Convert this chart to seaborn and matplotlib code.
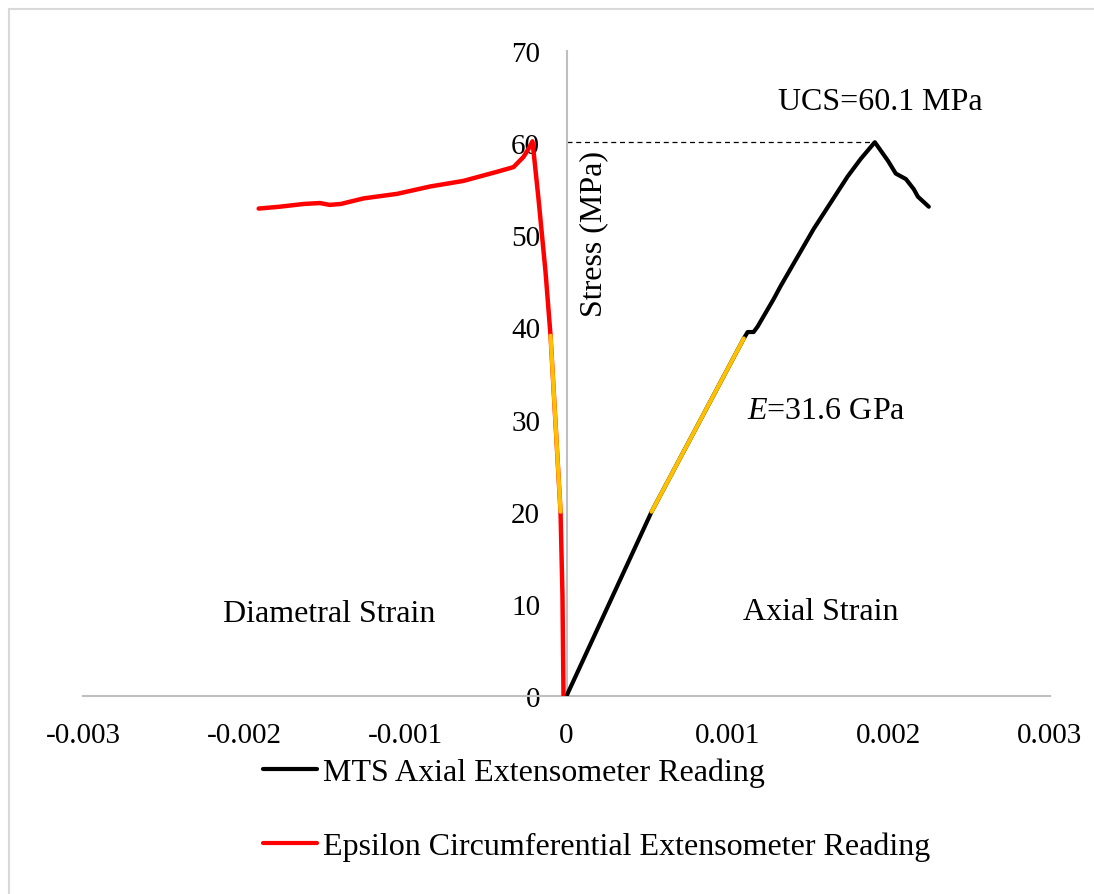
import matplotlib
matplotlib.use("Agg")
import matplotlib.pyplot as plt
import seaborn as sns
import numpy as np
import pandas as pd
from matplotlib.lines import Line2D

# ---- data ----
axial_strain = [0.0, 0.000528, 0.00110, 0.001124, 0.001161, 0.001186, 0.001286,
                0.001329, 0.001534, 0.001745, 0.001826, 0.001913, 0.001994,
                0.002043, 0.002106, 0.002155, 0.00218, 0.002217, 0.002248]
axial_stress = [0.0, 20.0, 38.8, 39.5, 39.5, 40.1, 43.1,
                44.5, 50.7, 56.4, 58.3, 60.1, 58.1,
                56.7, 56.1, 55.0, 54.2, 53.6, 53.1]

diam_strain = [-0.0000186, -0.000025, -0.000037, -0.000099, -0.00013, -0.000174,
               -0.000211, -0.000235, -0.000267, -0.000329, -0.000429, -0.00064,
               -0.000845, -0.00105, -0.00126, -0.0014, -0.00147, -0.00153,
               -0.00163, -0.00178, -0.00191]
diam_stress = [0.0, 10.9, 20.0, 39.1, 46.0, 54.0,
               60.2, 59.4, 58.5, 57.4, 56.9, 55.9,
               55.3, 54.5, 54.0, 53.4, 53.3, 53.5,
               53.4, 53.1, 52.9]

elastic_low, elastic_high = 20.0, 39.1
ucs = 60.1
ucs_strain = 0.001913

x_ticks = [-0.003, -0.002, -0.001, 0, 0.001, 0.002, 0.003]
x_labels = ["-0.003", "-0.002", "-0.001", "0", "0.001", "0.002", "0.003"]
y_ticks = [0, 10, 20, 30, 40, 50, 60, 70]

labels = ["MTS Axial Extensometer Reading", "Epsilon Circumferential Extensometer Reading"]

# ---- plotting ----
sns.set_theme(style="white")
plt.rcParams['font.family'] = ['Liberation Serif', 'DejaVu Serif']
plt.rcParams['mathtext.fontset'] = 'custom'
plt.rcParams['mathtext.rm'] = 'Liberation Serif'
plt.rcParams['mathtext.it'] = 'Liberation Serif:italic'
plt.rcParams['text.color'] = 'black'
plt.rcParams['xtick.color'] = 'black'
plt.rcParams['ytick.color'] = 'black'

fig = plt.figure(figsize=(10.94, 8.95), dpi=100)
ax = fig.add_axes([83/1094, 1-697/895, (1050-83)/1094, (697-52)/895])

ax_df = pd.DataFrame({"strain": axial_strain, "stress": axial_stress})
di_df = pd.DataFrame({"strain": diam_strain, "stress": diam_stress})

sns.lineplot(data=ax_df, x="strain", y="stress", sort=False, color="black",
             lw=3.0, ax=ax, label=labels[0], solid_capstyle="round",
             solid_joinstyle="round", zorder=3)
sns.lineplot(data=di_df, x="strain", y="stress", sort=False, color="#FF0000",
             lw=3.2, ax=ax, label=labels[1], solid_capstyle="round",
             solid_joinstyle="round", zorder=3)

# elastic (fit) segments highlighted
ax_el = ax_df[(ax_df.stress >= elastic_low) & (ax_df.stress <= 38.8)]
di_el = di_df[(di_df.stress >= elastic_low) & (di_df.stress <= elastic_high)]
ax.plot(ax_el.strain, ax_el.stress, color="#FFC000", lw=3.0, zorder=4)
ax.plot(di_el.strain, di_el.stress, color="#FFC000", lw=3.0, zorder=4)

# UCS dashed line
ax.plot([0, ucs_strain], [ucs, ucs], color="black", lw=0.9, ls=(0, (4, 3)), zorder=2)

ax.set_xlim(-0.003, 0.003)
ax.set_ylim(0, 70)
ax.set_xticks(x_ticks)
ax.set_xticklabels(x_labels)
ax.set_yticks(y_ticks)

for s in ["top", "right"]:
    ax.spines[s].set_visible(False)
ax.spines["left"].set_position(("data", 0))
for s in ["left", "bottom"]:
    ax.spines[s].set_color("#BFBFBF")
    ax.spines[s].set_linewidth(1.5)
ax.tick_params(axis="both", length=0, labelsize=21, colors="black")
ax.tick_params(axis="y", pad=19)
ax.tick_params(axis="x", pad=19)
ax.set_xlabel("")
ax.set_ylabel("")
ax.grid(False)

fs = 23
ax.text(0.000168, 50.2, "Stress (MPa)", rotation=90, ha="center", va="center", fontsize=fs)
ax.text(0.00195, 64.5, "UCS=60.1 MPa", ha="center", va="center", fontsize=fs)
ax.text(0.00112, 31.0, r"$\mathit{E}$=31.6 GPa", ha="left", va="center", fontsize=fs)
ax.text(-0.00147, 9.0, "Diametral Strain", ha="center", va="center", fontsize=fs)
ax.text(0.00158, 9.2, "Axial Strain", ha="center", va="center", fontsize=fs)

leg = ax.legend(loc="upper left", bbox_to_anchor=(167/967, -0.076), frameon=False,
                fontsize=fs, handlelength=1.7, handletextpad=0.2, labelspacing=1.38,
                borderaxespad=0)
for h in leg.get_lines():
    h.set_linewidth(3.0)
for t in leg.get_texts():
    t.set_color("black")

# light figure border (top and left visible)
fig.add_artist(Line2D([8.5/1094, 1.0], [1-9.5/895, 1-9.5/895], transform=fig.transFigure,
                      color="#D9D9D9", lw=1.5))
fig.add_artist(Line2D([8.5/1094, 8.5/1094], [0.0, 1-9.5/895], transform=fig.transFigure,
                      color="#D9D9D9", lw=1.5))

fig.savefig("out.png", dpi=100)
